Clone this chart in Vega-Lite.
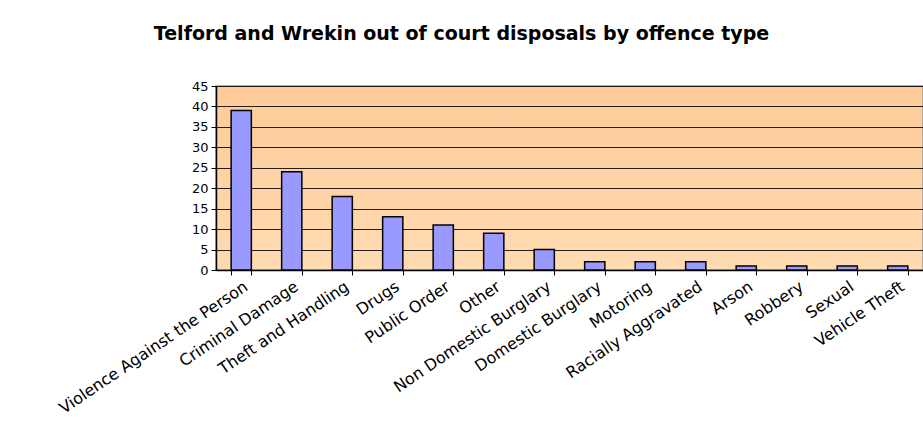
{
  "$schema": "https://vega.github.io/schema/vega-lite/v6.json",
  "width": 707,
  "height": 184,
  "autosize": {"type": "none"},
  "padding": {"left": 216, "top": 86, "right": 0, "bottom": 177},
  "background": "white",
  "title": {
    "text": "Telford and Wrekin out of court disposals by offence type",
    "font": "DejaVu Sans",
    "fontSize": 19,
    "fontWeight": "bold",
    "color": "black",
    "anchor": "middle",
    "dx": -108,
    "offset": 36
  },
  "data": {
    "values": [
      {"offence": "Violence Against the Person", "count": 39},
      {"offence": "Criminal Damage", "count": 24},
      {"offence": "Theft and Handling", "count": 18},
      {"offence": "Drugs", "count": 13},
      {"offence": "Public Order", "count": 11},
      {"offence": "Other", "count": 9},
      {"offence": "Non Domestic Burglary", "count": 5},
      {"offence": "Domestic Burglary", "count": 2},
      {"offence": "Motoring", "count": 2},
      {"offence": "Racially Aggravated", "count": 2},
      {"offence": "Arson", "count": 1},
      {"offence": "Robbery", "count": 1},
      {"offence": "Sexual", "count": 1},
      {"offence": "Vehicle Theft", "count": 1}
    ]
  },
  "mark": {"type": "bar", "fill": "#9999FF", "stroke": "black", "strokeWidth": 1.5},
  "encoding": {
    "x": {
      "field": "offence",
      "type": "nominal",
      "sort": null,
      "title": null,
      "scale": {"paddingInner": 0.6, "paddingOuter": 0.3},
      "axis": {
        "labelAngle": -34,
        "labelAlign": "right",
        "labelBaseline": "top",
        "labelFont": "DejaVu Sans",
        "labelFontSize": 16,
        "labelColor": "black",
        "labelPadding": 3,
        "labelOverlap": false,
        "labelLimit": 400,
        "tickBand": "extent",
        "tickColor": "black",
        "tickSize": 5,
        "domainColor": "black",
        "domainWidth": 1.5,
        "grid": false
      }
    },
    "y": {
      "field": "count",
      "type": "quantitative",
      "title": null,
      "scale": {"domain": [0, 45], "nice": false},
      "axis": {
        "values": [0, 5, 10, 15, 20, 25, 30, 35, 40, 45],
        "labelFont": "DejaVu Sans",
        "labelFontSize": 13,
        "labelColor": "black",
        "labelPadding": 3,
        "tickColor": "black",
        "tickSize": 5,
        "domainColor": "black",
        "domainWidth": 1.5,
        "grid": true,
        "gridColor": "black",
        "gridOpacity": 0.85,
        "gridWidth": 1.2
      }
    }
  },
  "config": {
    "view": {
      "stroke": "#999999",
      "strokeWidth": 1.5,
      "fill": {
        "gradient": "linear",
        "x1": 0, "y1": 0, "x2": 0, "y2": 1,
        "stops": [
          {"offset": 0, "color": "#FDCB98"},
          {"offset": 1, "color": "#FFDBB2"}
        ]
      }
    }
  }
}
